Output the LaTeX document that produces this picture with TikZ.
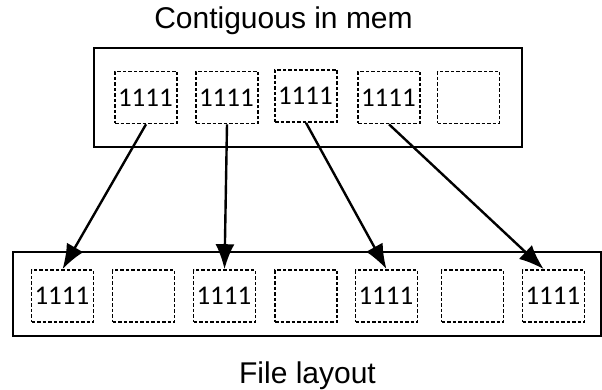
\documentclass[tikz,border=0pt]{standalone}
\usepackage{fontspec}
\setmainfont{Liberation Sans}
\newfontfamily\cellfont{Carlito}
\usetikzlibrary{arrows.meta}

\begin{document}
\begin{tikzpicture}[x=1pt,y=-1pt]
		\tikzstyle{outerbox}=[draw,line width=2.4pt,inner sep=0pt]
		\tikzstyle{cell}=[draw,line width=1.6pt,dash pattern=on 3.5pt off 2pt,minimum height=52pt,text width=56pt,inner sep=3pt,align=left,font=\cellfont\fontsize{27}{30}\selectfont]
		\tikzstyle{caption}=[anchor=base,inner sep=0pt,font=\fontsize{30}{36}\selectfont]
		\tikzstyle{myarrow}=[line width=2.4pt,>={Latex[length=25pt,width=19pt]},->]

		\useasboundingbox (0,0) rectangle (602,390);

		\node[caption] (memlabel) at (283.5,29) {Contiguous in mem};
		\node[caption] (filelabel) at (307.5,383) {File layout};

		\node[outerbox,minimum width=428pt,minimum height=99pt] (mem) at (308,97.5) {};
		\node[outerbox,minimum width=588pt,minimum height=84pt] (file) at (307,294) {};

		\foreach \x / \y / \z / \t in {146/97.5/1/1111,227/97.5/2/1111,306/96/3/1111,389/97.5/4/1111,468.5/97.5/5/} { \node[cell] (t\z) at (\x,\y) {\t};}
		\foreach \x / \z / \t in {62.5/1/1111,143.5/2/,224.5/3/1111,306/4/,386.5/5/1111,472.5/6/,553.5/7/1111} { \node[cell] (b\z) at (\x,296) {\t};}

		\draw[myarrow] (t1.south) -- (b1.north);
		\draw[myarrow] (t2.south) -- (b3.north);
		\draw[myarrow] (t3.south) -- (b5.north);
		\draw[myarrow] (t4.south) -- (b7.110);

	\end{tikzpicture}
\end{document}
